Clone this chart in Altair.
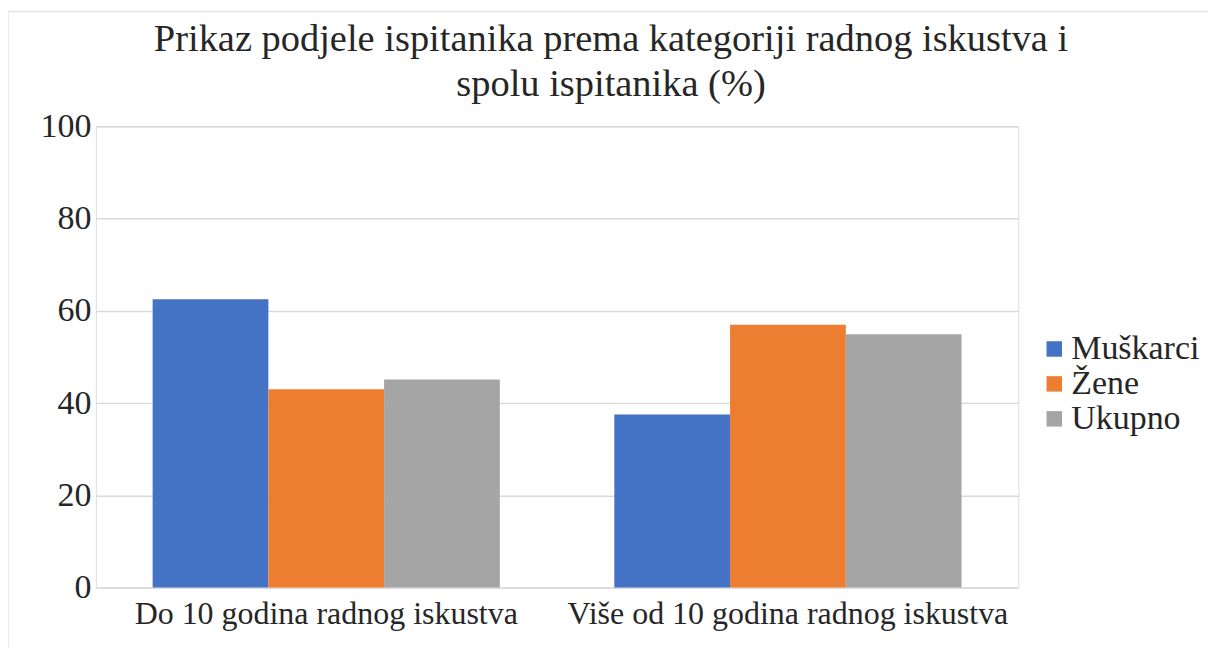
import altair as alt
import pandas as pd

categories = ["Do 10 godina radnog iskustva", "Više od 10 godina radnog iskustva"]
series = ["Muškarci", "Žene", "Ukupno"]
muskarci = [62.5, 37.5]
zene = [43.0, 57.0]
ukupno = [45.1, 54.9]
colors = ["#4472C4", "#ED7D31", "#A5A5A5"]
y_ticks = [0, 20, 40, 60, 80, 100]

rows = []
for name, vals in zip(series, [muskarci, zene, ukupno]):
    for c, v in zip(categories, vals):
        rows.append({"kategorija": c, "spol": name, "vrijednost": v})
df = pd.DataFrame(rows)

FONT = "Liberation Serif"
TXT = "#262626"

bars = alt.Chart(df).mark_bar().encode(
    x=alt.X("kategorija:N", sort=categories, title=None,
            scale=alt.Scale(paddingInner=0.248, paddingOuter=0.123),
            axis=alt.Axis(labelAngle=0, domain=False, ticks=False, labelPadding=11,
                          labelLimit=0, labelFontSize=32, labelFont=FONT, labelColor=TXT)),
    xOffset=alt.XOffset("spol:N", sort=series, scale=alt.Scale(paddingInner=0, paddingOuter=0)),
    y=alt.Y("vrijednost:Q", title=None,
            scale=alt.Scale(domain=[0, 100], nice=False),
            axis=alt.Axis(values=y_ticks, domain=False, ticks=False, labelPadding=5,
                          labelFontSize=34, labelFont=FONT, labelColor=TXT,
                          gridColor="#D9D9D9", gridWidth=1.5)),
    color=alt.Color("spol:N", sort=series,
                    scale=alt.Scale(domain=series, range=colors),
                    legend=alt.Legend(title=None, orient="none", legendX=943, legendY=206,
                                      symbolType="square", symbolSize=240,
                                      symbolStrokeWidth=0, labelFontSize=34,
                                      labelFont=FONT, labelColor=TXT,
                                      rowPadding=1, labelOffset=0)),
)

frame = alt.Chart(pd.DataFrame({"f": [0]})).mark_rect(
    filled=False, stroke="#E3E3E3", strokeWidth=1.5
).encode(x=alt.value(-88), x2=alt.value(1230), y=alt.value(-115), y2=alt.value(600))

chart = alt.layer(frame, bars).properties(
    width=924,
    height=462,
    autosize=alt.AutoSizeParams(type="none"),
    padding={"left": 88, "top": 118, "right": 190, "bottom": 60},
    title=alt.TitleParams(
        ["Prikaz podjele ispitanika prema kategoriji radnog iskustva i",
         "spolu ispitanika (%)"],
        anchor="middle", font=FONT, fontSize=38.5, fontWeight="normal",
        color=TXT, lineHeight=45, offset=-94, dx=54),
).configure_view(stroke=None).configure(background="white")

chart.save("out.html", embed_options={"renderer": "svg", "actions": False})
